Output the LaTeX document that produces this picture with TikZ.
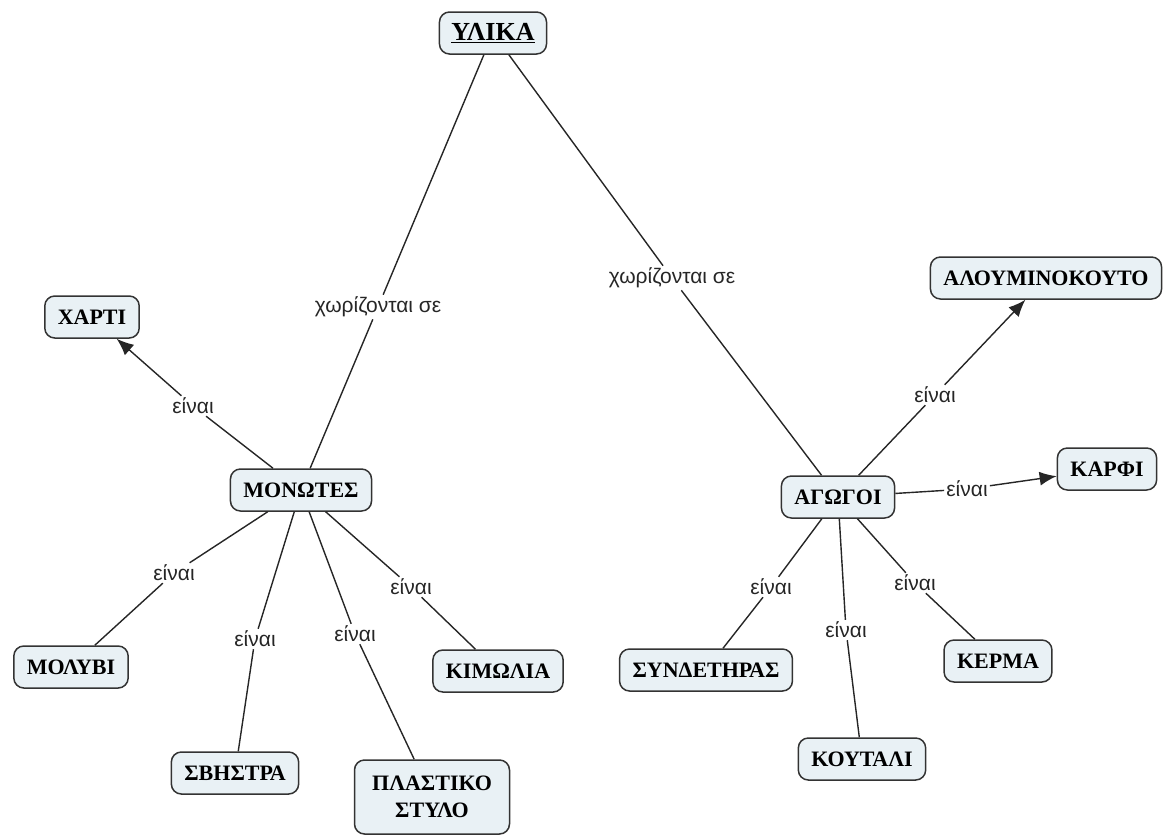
\documentclass[tikz,border=0pt]{standalone}
\usepackage{fontspec}
\setmainfont{Liberation Serif}
\newfontfamily\labfont{Liberation Sans}
\usetikzlibrary{arrows.meta}
\begin{document}
\begin{tikzpicture}[x=1pt,y=-1pt,
  concept/.style={draw=black!80, line width=1.5pt, rounded corners=10pt, fill=cbox,
    font=\fontsize{22}{27}\selectfont\bfseries, inner xsep=13pt, minimum height=42pt, align=center, text=black},
  linkph/.style={font=\labfont\fontsize{21}{24}\selectfont, inner sep=2pt, text=black!85},
  conn/.style={line width=1.4pt, draw=black!85},
  arr/.style={conn, -{Latex[length=17pt,width=14pt]}}]
\definecolor{cbox}{HTML}{E9F1F5}
\useasboundingbox (0,0) rectangle (1165,836);
% concepts
\node[concept, font=\fontsize{26}{30}\selectfont\bfseries, inner xsep=12pt] (ylika) at (493,33) {\underline{ΥΛΙΚΑ}};
\node[concept] (xarti) at (92,317) {ΧΑΡΤΙ};
\node[concept] (monotes) at (301,490) {ΜΟΝΩΤΕΣ};
\node[concept] (alum) at (1046,278) {ΑΛΟΥΜΙΝΟΚΟΥΤΟ};
\node[concept] (karfi) at (1107,469) {ΚΑΡΦΙ};
\node[concept] (agogoi) at (838,497) {ΑΓΩΓΟΙ};
\node[concept] (molyvi) at (71,667) {ΜΟΛΥΒΙ};
\node[concept] (svistra) at (235,773) {ΣΒΗΣΤΡΑ};
\node[concept, minimum height=74pt, minimum width=155pt] (plastiko) at (432,797) {ΠΛΑΣΤΙΚΟ\\ΣΤΥΛΟ};
\node[concept] (kimolia) at (498,671) {ΚΙΜΩΛΙΑ};
\node[concept] (syndet) at (706,670) {ΣΥΝΔΕΤΗΡΑΣ};
\node[concept] (koutali) at (862,759) {ΚΟΥΤΑΛΙ};
\node[concept] (kerma) at (998,661) {ΚΕΡΜΑ};
% linking phrases
\node[linkph] (l1) at (378,307) {χωρίζονται σε};
\node[linkph] (l2) at (672,278) {χωρίζονται σε};
\node[linkph] (l3) at (193,406) {είναι};
\node[linkph] (l4) at (935,395) {είναι};
\node[linkph] (l5) at (967,489) {είναι};
\node[linkph] (l6) at (174,573) {είναι};
\node[linkph] (l7) at (255,639) {είναι};
\node[linkph] (l8) at (355,634) {είναι};
\node[linkph] (l9) at (411,587) {είναι};
\node[linkph] (l10) at (771,587) {είναι};
\node[linkph] (l11) at (846,630) {είναι};
\node[linkph] (l12) at (915,583) {είναι};
% connectors
\draw[conn] (ylika) -- (l1); \draw[conn] (l1) -- (monotes);
\draw[conn] (ylika) -- (l2); \draw[conn] (l2) -- (agogoi);
\draw[conn] (monotes) -- (l3); \draw[arr] (l3) -- (xarti);
\draw[conn] (agogoi) -- (l4); \draw[arr] (l4) -- (alum);
\draw[conn] (agogoi) -- (l5); \draw[arr] (l5) -- (karfi);
\draw[conn] (monotes) -- (l6); \draw[conn] (l6) -- (molyvi);
\draw[conn] (monotes) -- (l7); \draw[conn] (l7) -- (svistra);
\draw[conn] (monotes) -- (l8); \draw[conn] (l8) -- (plastiko);
\draw[conn] (monotes) -- (l9); \draw[conn] (l9) -- (kimolia);
\draw[conn] (agogoi) -- (l10); \draw[conn] (l10) -- (syndet);
\draw[conn] (agogoi) -- (l11); \draw[conn] (l11) -- (koutali);
\draw[conn] (agogoi) -- (l12); \draw[conn] (l12) -- (kerma);
\end{tikzpicture}
\end{document}
